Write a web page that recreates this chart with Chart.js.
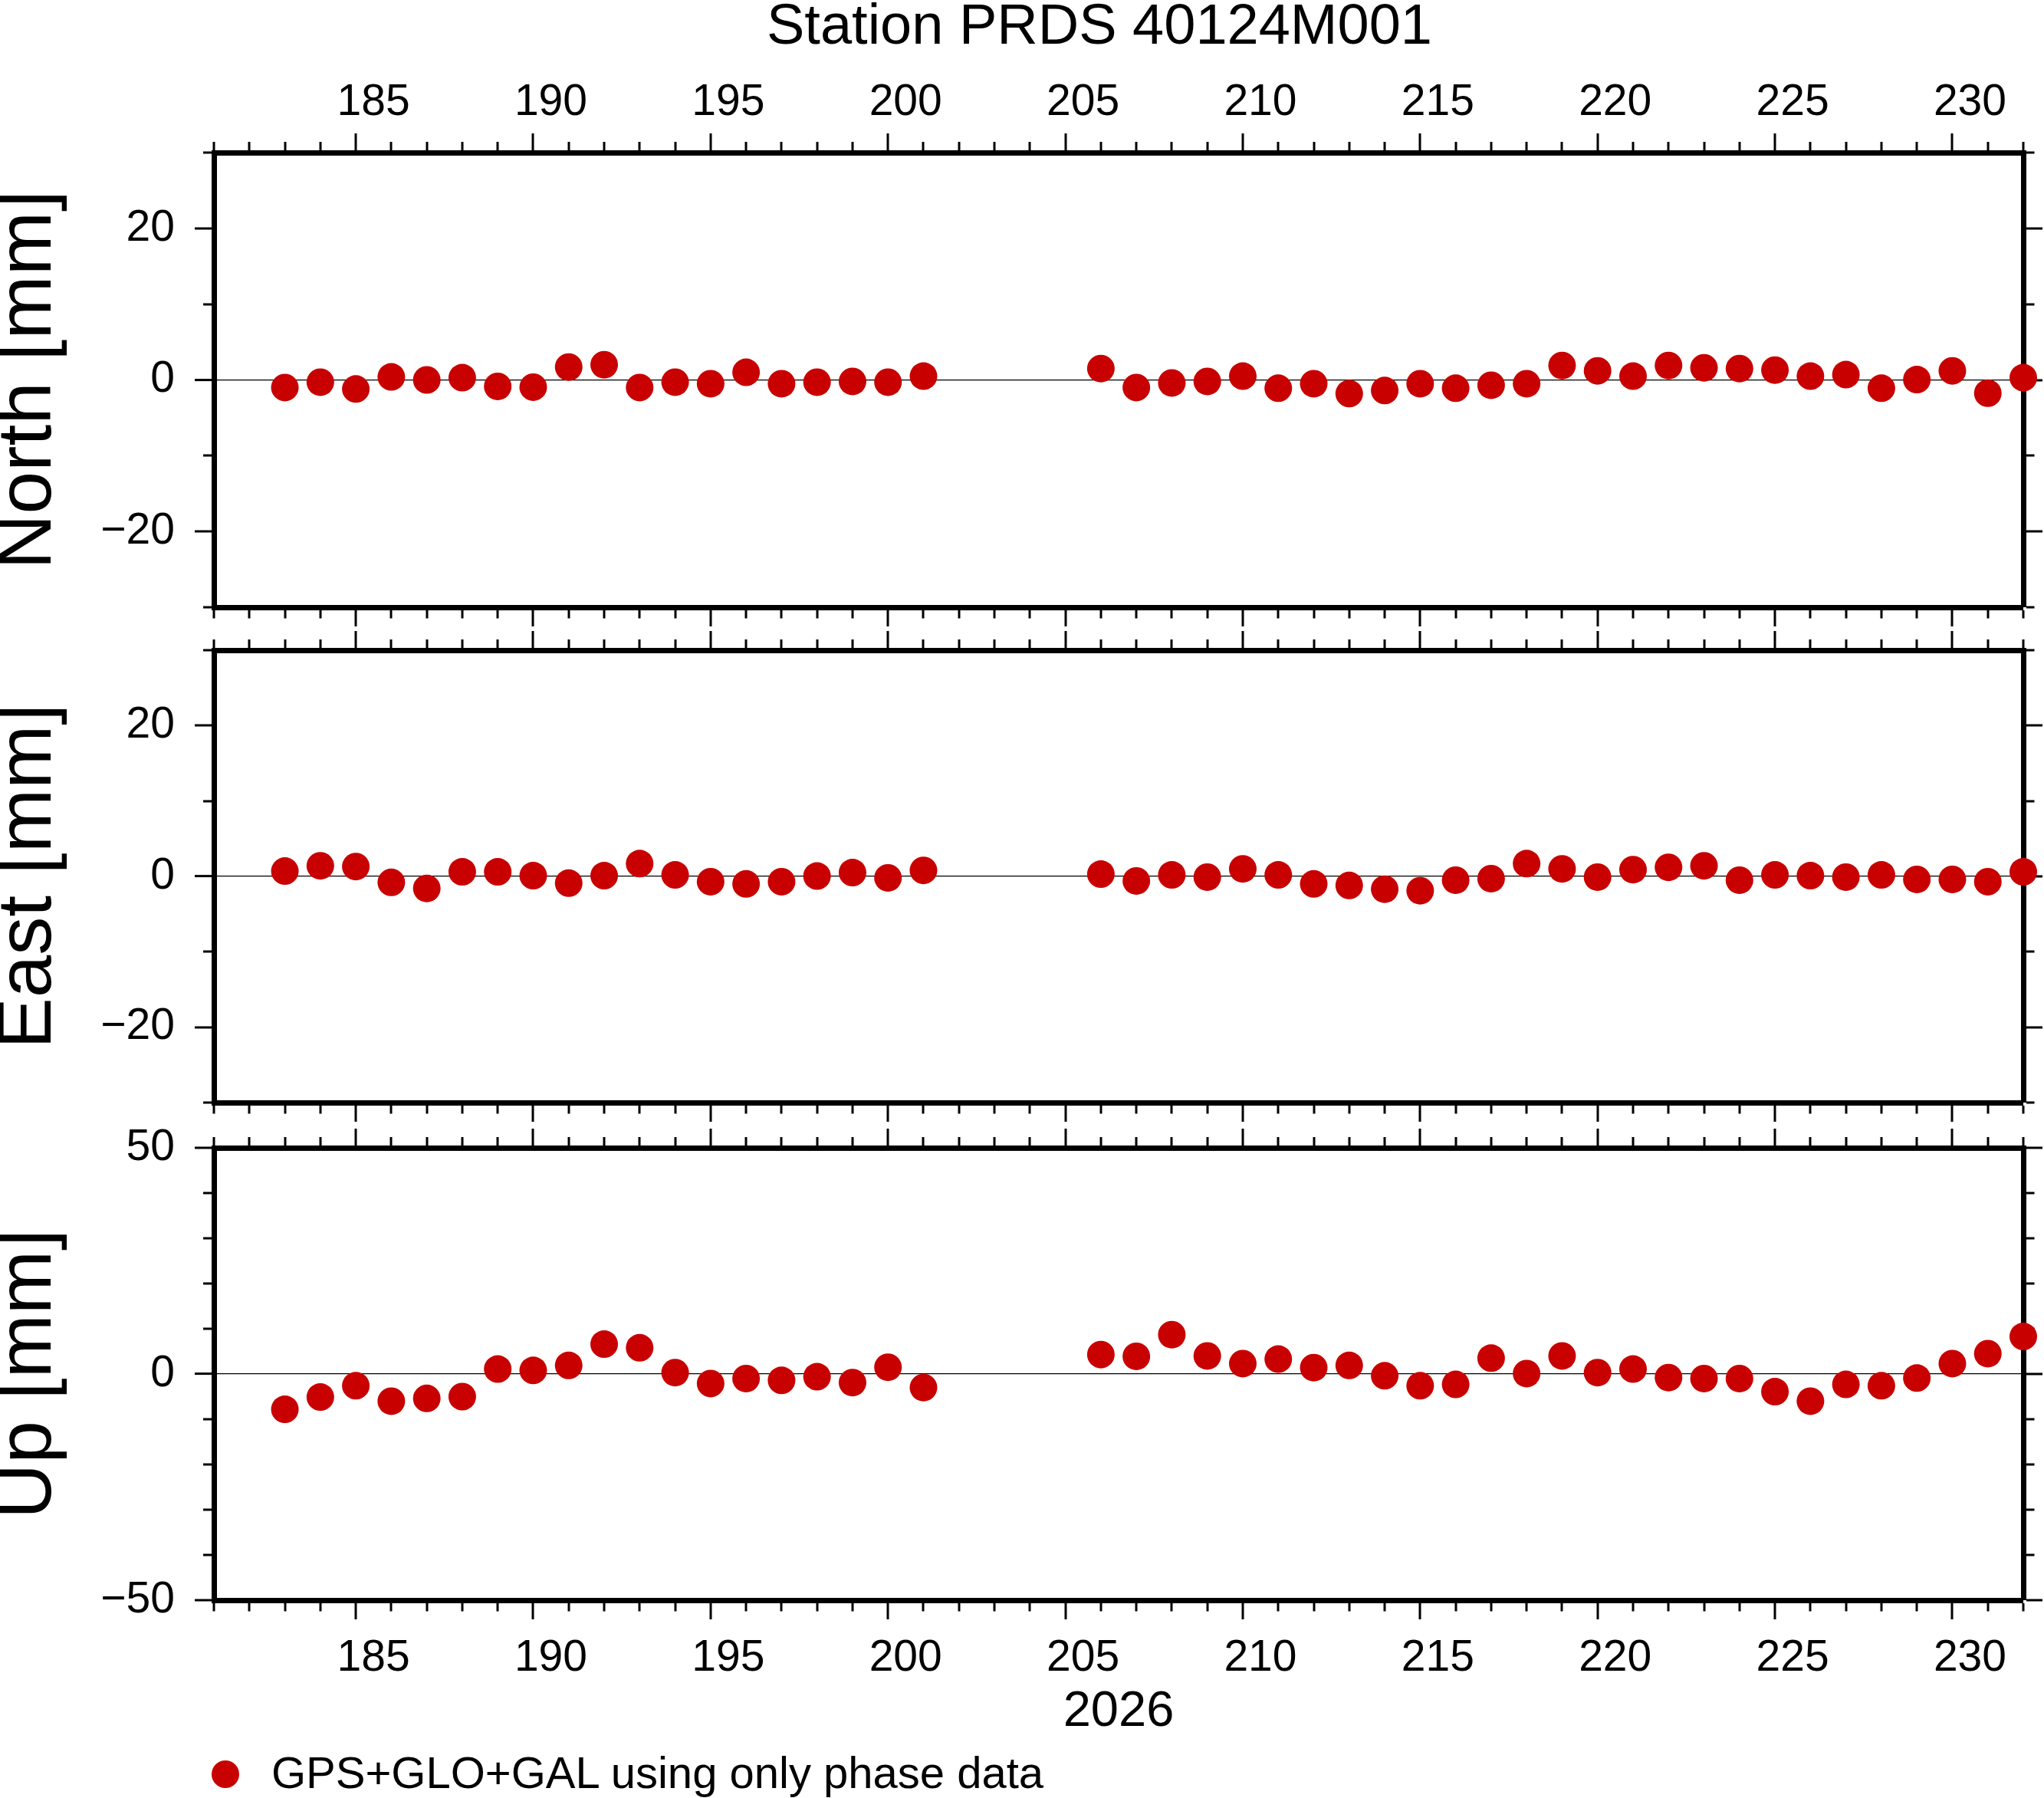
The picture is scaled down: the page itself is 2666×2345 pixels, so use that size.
<!DOCTYPE html>
<html>
<head>
<meta charset="utf-8">
<title>Station PRDS 40124M001</title>
<script src="https://cdn.jsdelivr.net/npm/chart.js@4.4.1/dist/chart.umd.min.js"></script>
<style>
  html, body { margin: 0; padding: 0; background: #ffffff; }
  body { position: relative; width: 2666px; height: 2345px; overflow: hidden;
         font-family: 'Liberation Sans', Arial, Helvetica, sans-serif; color: #000; }
  canvas { position: absolute; left: 0; }
  #title { position: absolute; left: 734px; width: 1400px; top: -5px; text-align: center;
           font-size: 74px; line-height: 74px; white-space: nowrap; }
  #legend-dot { position: absolute; left: 276px; top: 2296px; width: 36px; height: 36px;
                border-radius: 50%; background: #c80000; }
  #legend-text { position: absolute; left: 354px; top: 2283px; font-size: 58px; line-height: 58px;
                 white-space: nowrap; }
</style>
</head>
<body>
<div id="title">Station PRDS 40124M001</div>
<canvas id="northChart" width="2666" height="820" style="top:0px"></canvas>
<canvas id="eastChart" width="2666" height="648" style="top:820px"></canvas>
<canvas id="upChart" width="2666" height="877" style="top:1468px"></canvas>
<div id="legend-dot"></div>
<div id="legend-text"></div>

<script>
// day of year 2026
const days = [183, 184, 185, 186, 187, 188, 189, 190, 191, 192, 193, 194, 195, 196, 197, 198, 199, 200, 201,
              206, 207, 208, 209, 210, 211, 212, 213, 214, 215, 216, 217, 218, 219, 220, 221, 222, 223, 224,
              225, 226, 227, 228, 229, 230, 231, 232];

// residuals in mm
const north = [-1.0, -0.3, -1.2, 0.4, 0.0, 0.3, -0.85, -0.95, 1.7, 2.0, -1.0, -0.3, -0.5, 1.0, -0.5, -0.3, -0.2, -0.3, 0.5,
               1.5, -1.0, -0.4, -0.2, 0.5, -1.1, -0.5, -1.8, -1.4, -0.5, -1.1, -0.7, -0.5, 1.9, 1.2, 0.5, 1.9, 1.6, 1.5,
               1.3, 0.5, 0.7, -1.1, 0.05, 1.2, -1.75, 0.3];
const east = [0.7, 1.4, 1.3, -0.8, -1.6, 0.6, 0.6, 0.1, -0.9, 0.1, 1.7, 0.2, -0.7, -1.0, -0.7, 0.05, 0.5, -0.2, 0.8,
              0.3, -0.6, 0.2, -0.1, 1.0, 0.2, -1.0, -1.2, -1.7, -1.9, -0.5, -0.3, 1.7, 1.0, -0.1, 0.9, 1.2, 1.4, -0.5,
              0.2, 0.1, -0.1, 0.2, -0.4, -0.4, -0.7, 0.6];
const up = [-7.8, -5.1, -2.6, -6.0, -5.4, -5.0, 1.1, 0.8, 1.9, 6.6, 5.8, 0.3, -2.1, -1.0, -1.4, -0.6, -1.9, 1.5, -3.0,
            4.3, 3.9, 8.7, 4.0, 2.3, 3.3, 1.4, 1.9, -0.4, -2.6, -2.3, 3.5, 0.1, 4.0, 0.3, 1.1, -0.8, -1.0, -1.0,
            -3.9, -6.0, -2.3, -2.6, -0.9, 2.3, 4.5, 8.3];

const dayTickLabels = [185, 190, 195, 200, 205, 210, 215, 220, 225, 230];
const neTickLabels = [-20, 0, 20];
const upTickLabels = [-50, 0, 50];
const yearLabel = '2026';
const seriesLabel = 'GPS+GLO+GAL using only phase data';

const FONT = "'Liberation Sans', Arial, Helvetica, sans-serif";
const RED = '#c80000';

function fmt(v) {
    return v < 0 ? '\u2212' + Math.abs(v) : String(v);
}

// minor ticks are the inner part of a 25px tick, cut with a dash pattern
function tickDash(position, isMajor) {
    if (isMajor) return [];
    if (position === 'left' || position === 'top') return [0, 11, 40, 0];
    return [10.5, 100];
}

function makeAxis(position, min, max, step, labelled, size, opts) {
    const horizontal = position === 'top' || position === 'bottom';
    return {
        type: 'linear',
        position: position,
        min: min,
        max: max,
        border: { display: true, color: '#000', width: 7 },
        grid: {
            drawOnChartArea: !!opts.zeroLine,
            color: ctx => (ctx.tick && ctx.tick.value === 0) ? '#000' : 'rgba(0,0,0,0)',
            lineWidth: ctx => (opts.zeroLine && ctx.tick && ctx.tick.value === 0) ? 1.2 : 0,
            tickColor: '#000',
            tickWidth: 3,
            tickLength: 25,
            tickBorderDash: ctx => tickDash(position, !!(ctx.tick && labelled.includes(ctx.tick.value)))
        },
        ticks: {
            display: !!opts.showLabels,
            stepSize: step,
            autoSkip: false,
            maxRotation: 0,
            minRotation: 0,
            color: '#000',
            padding: opts.padding || 0,
            labelOffset: opts.labelOffset || 0,
            font: { family: FONT, size: 57 },
            callback: v => labelled.includes(v) ? fmt(v) : ''
        },
        title: {
            display: !!opts.title,
            text: opts.title || '',
            color: '#000',
            font: { family: FONT, size: opts.titleSize || 57, lineHeight: opts.titleLineHeight || 1.2 },
            padding: opts.titlePadding || 0
        },
        afterFit: function(scale) {
            if (horizontal) {
                scale.height = size;
                scale.paddingLeft = 0;
                scale.paddingRight = 0;
            } else {
                scale.width = size;
                scale.paddingTop = 0;
                scale.paddingBottom = 0;
            }
        }
    };
}

function makePanel(canvasId, values, p) {
    const points = days.map((d, i) => ({ x: d, y: values[i] }));
    return new Chart(document.getElementById(canvasId), {
        type: 'scatter',
        data: {
            datasets: [{
                label: seriesLabel,
                data: points,
                backgroundColor: RED,
                borderColor: RED,
                pointRadius: 18,
                pointHoverRadius: 18,
                pointBorderWidth: 0,
                clip: false,
                xAxisID: 'x',
                yAxisID: 'y'
            }]
        },
        options: {
            responsive: false,
            animation: false,
            events: [],
            layout: { autoPadding: false, padding: 0 },
            plugins: {
                legend: { display: false },
                tooltip: { enabled: false },
                title: { display: false }
            },
            scales: {
                x: makeAxis('bottom', 181, 232, 1, dayTickLabels, p.bottomH, {
                    showLabels: p.bottomLabels, padding: 17, labelOffset: 23,
                    title: p.xTitle, titleSize: 65, titlePadding: { top: 0, bottom: 73 }
                }),
                x2: makeAxis('top', 181, 232, 1, dayTickLabels, p.topH, {
                    showLabels: p.topLabels, padding: 6, labelOffset: 23
                }),
                y: makeAxis('left', p.yMin, p.yMax, 10, p.yLabels, 279, {
                    showLabels: true, padding: 26, zeroLine: true,
                    title: p.yTitle, titleSize: 100, titleLineHeight: 0.77, titlePadding: 0
                }),
                y2: makeAxis('right', p.yMin, p.yMax, 10, p.yLabels, 27, {})
            }
        }
    });
}

makePanel('northChart', north, {
    topH: 199, bottomH: 28, topLabels: true, bottomLabels: false,
    yMin: -30, yMax: 30, yLabels: neTickLabels, yTitle: 'North [mm]'
});
makePanel('eastChart', east, {
    topH: 28, bottomH: 30, topLabels: false, bottomLabels: false,
    yMin: -30, yMax: 30, yLabels: neTickLabels, yTitle: 'East [mm]'
});
const upChart = makePanel('upChart', up, {
    topH: 29, bottomH: 258, topLabels: false, bottomLabels: true, xTitle: yearLabel,
    yMin: -50, yMax: 50, yLabels: upTickLabels, yTitle: 'Up [mm]'
});

document.getElementById('legend-text').textContent = upChart.data.datasets[0].label;
</script>
</body>
</html>
